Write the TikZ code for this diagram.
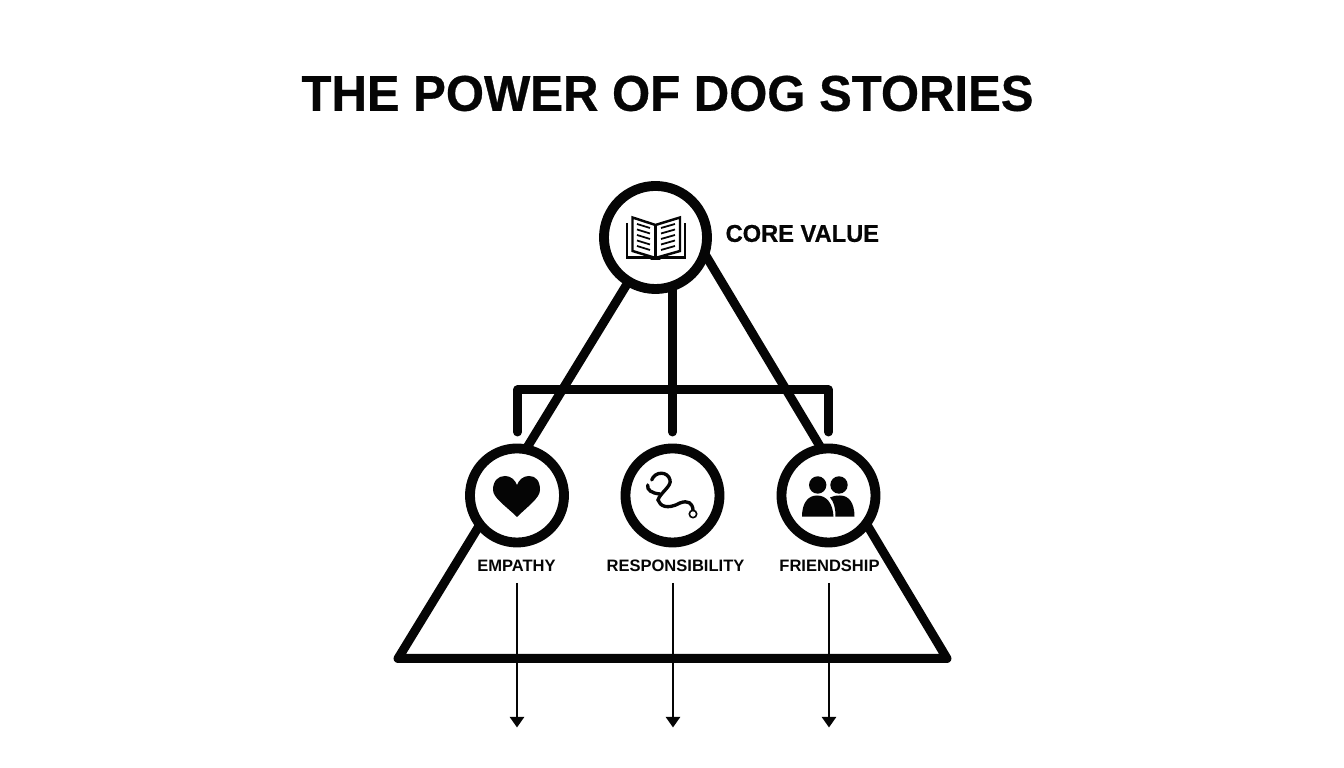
\documentclass[tikz,border=0pt]{standalone}
\usepackage{fontspec}
\setmainfont{Liberation Sans}
\newfontfamily\headfont[FakeStretch=0.975,FakeBold=0.6]{Liberation Sans Bold}
\usetikzlibrary{arrows.meta,backgrounds,positioning}
\definecolor{inkblack}{RGB}{5,5,5}
\tikzstyle{ring} = [circle,draw=inkblack,fill=white,line width=2.8pt,minimum size=0.94cm,inner sep=0pt]
\tikzstyle{bigring} = [ring,minimum size=1.03cm]
\tikzstyle{frame} = [draw=inkblack,line width=2.55pt,line cap=round,line join=round]
\tikzstyle{caption} = [font=\fontsize{4.7}{5}\selectfont\bfseries,text=inkblack,inner sep=0pt]
\tikzstyle{arrow} = [draw=inkblack,line width=0.7pt,-{Triangle[width=4pt,length=3pt]}]
\tikzstyle{icon} = [draw=inkblack,line width=0.7pt]
\begin{document}
\begin{tikzpicture}[x=0.01cm,y=-0.01cm]
\useasboundingbox (0,0) rectangle (1344,768);
% Title
\node[font=\fontsize{14.3}{16}\selectfont\headfont,text=inkblack,inner sep=0pt] (title) at (667.5,93.5) {THE POWER OF DOG STORIES};

% Rings
\node[bigring] (core) at (655.5,237.5) {};
\node[ring] (empathy) at (517,495.5) {};
\node[ring] (resp) at (672.5,495.5) {};
\node[ring] (friend) at (828.5,495.5) {};

% Labels
\node[font=\fontsize{6.9}{8}\selectfont\headfont,text=inkblack,inner sep=0pt,right=0.13cm of core,yshift=0.04cm] (corelabel) {CORE VALUE};
\node[caption] (emplabel) at (516.5,566) {EMPATHY};
\node[caption] (resplabel) at (675.5,566) {RESPONSIBILITY};
\node[caption] (friendlabel) at (829.5,566) {FRIENDSHIP};

% Triangle and bracket behind the rings
\coordinate (triL) at (398,658.5);
\coordinate (triR) at (947,658.5);
\coordinate (triT) at (695,237.5);
\coordinate (stemtop) at (672.5,280);
\coordinate (brL) at (517.5,390);
\coordinate (brR) at (828.5,390);
\coordinate (stubL) at (517.5,432);
\coordinate (stubM) at (672.5,432);
\coordinate (stubR) at (828.5,432);
\begin{scope}[on background layer]
\draw[frame] (core.center) -- (triL) -- (triR) -- (triT);
\draw[frame] (stubL) -- (brL) -- (brR) -- (stubR);
\draw[frame] (stemtop) -- (stubM);
\end{scope}

% Arrows
\foreach \name/\x in {A/517,B/673,C/829} {
  \coordinate (start\name) at (\x,583);
  \coordinate (end\name) at (\x,727.5);
  \draw[arrow] (start\name) -- (end\name);
}

% Book
\draw[icon] (627,223) -- (627,257.5) -- (685,257.5) -- (685,223);
\draw[icon,fill=white] (632.5,217.5) -- (655.5,225) -- (680,217.5) -- (680,251) -- (655.5,258) -- (632.5,251) -- cycle;
\draw[icon] (655.5,225) -- (655.5,258);
\foreach \y in {0,5.5,11,16.5,22} {
  \draw[inkblack,line width=0.5pt] (637,224+\y) -- (650,228+\y);
  \draw[inkblack,line width=0.5pt] (675,224+\y) -- (661,228+\y);
}
\fill[inkblack] (648,256) -- (655.5,258) -- (663,256) -- (660,260) -- (651,260) -- cycle;

% Heart
\fill[inkblack] (517,517) .. controls (507,507) and (493,498) .. (493,490) .. controls (493,481) and (498,476) .. (505,476) .. controls (511,476) and (515,480) .. (517,485) .. controls (519,480) and (523,476) .. (529,476) .. controls (536,476) and (540,481) .. (540,490) .. controls (540,498) and (527,507) .. (517,517) -- cycle;

% Leash
\draw[inkblack,line width=0.95pt,line cap=round] (651.7,480) .. controls (655,471) and (668,471) .. (670,480) .. controls (672,486) and (660,493) .. (658,500) .. controls (660,506) and (667,510) .. (680,503) .. controls (688,500) and (692.5,503) .. (693,510);
\draw[inkblack,line width=0.95pt,line cap=round] (647.7,485) .. controls (646.7,490) and (651.7,493.3) .. (660,494);
\draw[inkblack,line width=0.45pt] (693,514) circle (3.7);

% People
\fill[inkblack] (817.7,485) circle (8.7);
\fill[inkblack] (839,485) circle (8.7);
\fill[inkblack] (802,516.7) .. controls (802,503) and (808,495.5) .. (817,495.5) .. controls (827,495.5) and (833,504) .. (833.5,516.7) -- cycle;
\fill[inkblack] (835.5,516.7) .. controls (835.5,508) and (834,502) .. (830,497.5) .. controls (833,496) and (836,495.5) .. (840,495.5) .. controls (849,495.5) and (854.5,503) .. (854.5,516.7) -- cycle;
\end{tikzpicture}
\end{document}
